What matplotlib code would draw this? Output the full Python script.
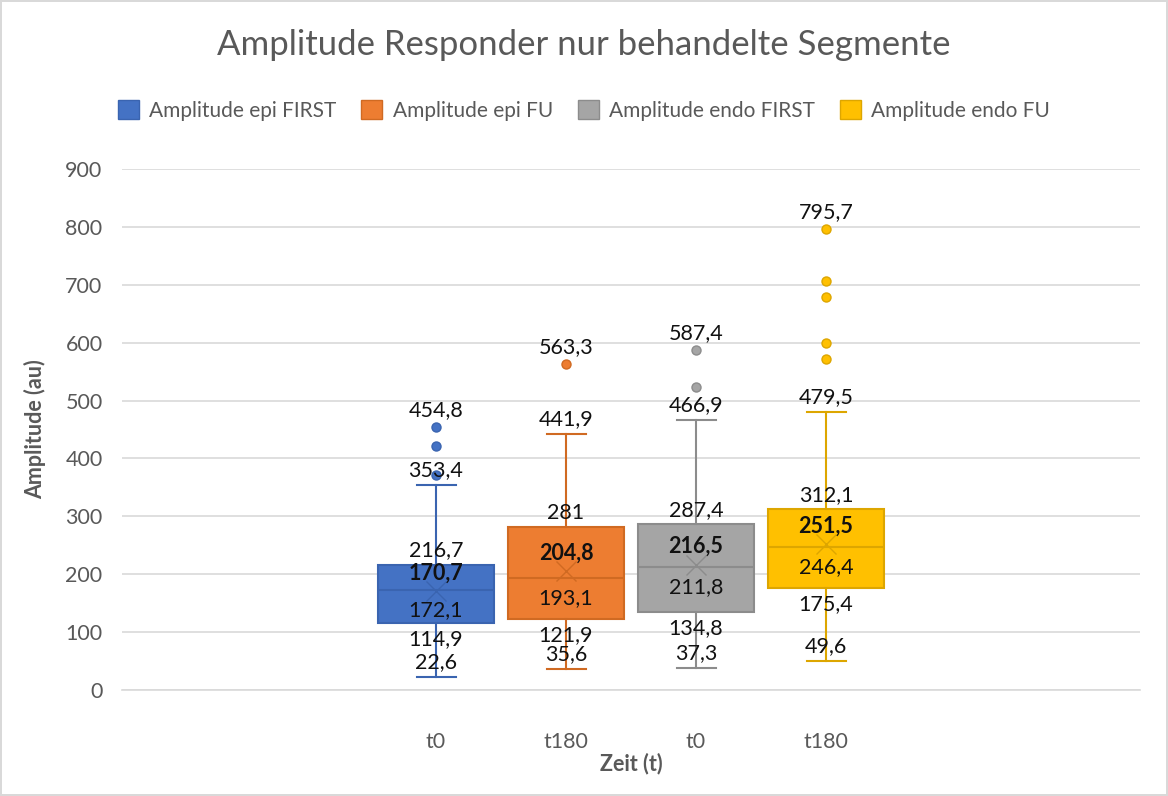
import matplotlib.pyplot as plt

plt.rcParams['font.family'] = ['Lato', 'DejaVu Sans']

# Daten
series = ['Amplitude epi FIRST', 'Amplitude epi FU', 'Amplitude endo FIRST', 'Amplitude endo FU']
xlabels = ['t0', 't180', 't0', 't180']
w_low = [22.6, 35.6, 37.3, 49.6]
q1 = [114.9, 121.9, 134.8, 175.4]
med = [172.1, 193.1, 211.8, 246.4]
mean = [170.7, 204.8, 216.5, 251.5]
q3 = [216.7, 281.0, 287.4, 312.1]
w_high = [353.4, 441.9, 466.9, 479.5]
outliers = [[371, 421, 454.8], [563.3], [524, 587.4], [571, 599, 679, 707, 795.7]]

colors = ['#4472C4', '#ED7D31', '#A5A5A5', '#FFC000']
edges = ['#3A64B0', '#D06A22', '#8C8C8C', '#DDA600']

def fmt(v):
    s = ('%.1f' % v).replace('.', ',')
    return s[:-2] if s.endswith(',0') else s

fig = plt.figure(figsize=(11.68, 7.96), dpi=100)
fig.patch.set_edgecolor('#D9D9D9')
fig.patch.set_linewidth(1.5)
ax = fig.add_axes([0.1045, 0.1332, 0.8715, 0.6545])

stats = []
for i in range(4):
    stats.append(dict(whislo=w_low[i], q1=q1[i], med=med[i], mean=mean[i],
                      q3=q3[i], whishi=w_high[i], fliers=outliers[i]))

for i in range(4):
    ax.bxp([stats[i]], positions=[i], widths=0.89, patch_artist=True,
           showmeans=True, manage_ticks=False,
           boxprops=dict(facecolor=colors[i], edgecolor=edges[i], linewidth=1.5),
           medianprops=dict(color=edges[i], linewidth=1.5),
           whiskerprops=dict(color=edges[i], linewidth=1.5),
           capprops=dict(color=edges[i], linewidth=1.5),
           capwidths=0.3,
           meanprops=dict(marker='x', markeredgecolor=edges[i], markersize=15, markeredgewidth=1),
           flierprops=dict(marker='o', markerfacecolor=colors[i], markeredgecolor=edges[i],
                           markersize=6.5))

# Datenbeschriftungen
lab = dict(ha='center', va='center', fontsize=15.5, color='#111111',
           textcoords='offset pixels')
for i in range(4):
    ax.annotate(fmt(w_high[i]), (i, w_high[i]), xytext=(0, 15), **lab)
    ax.annotate(fmt(q3[i]), (i, q3[i]), xytext=(0, 14), **lab)
    ax.annotate(fmt(mean[i]), (i, mean[i]), xytext=(0, 18), fontweight='bold', **lab)
    ax.annotate(fmt(med[i]), (i, med[i]), xytext=(0, -20), **lab)
    ax.annotate(fmt(q1[i]), (i, q1[i]), xytext=(0, -16), **lab)
    ax.annotate(fmt(w_low[i]), (i, w_low[i]), xytext=(0, 15), **lab)
    top = max(outliers[i])
    ax.annotate(fmt(top), (i, top), xytext=(0, 17), **lab)

ax.set_xlim(-2.415, 5.415)
ax.set_ylim(0, 900)
ax.set_yticks(range(0, 1000, 100))
ax.set_xticks(range(4))
ax.set_xticklabels(xlabels)
ax.tick_params(axis='x', length=0, pad=30, labelsize=15.5, labelcolor='#595959')
ax.tick_params(axis='y', length=0, pad=14, labelsize=15.5, labelcolor='#595959')
ax.grid(axis='y', color='#D9D9D9', linewidth=1.2)
ax.set_axisbelow(True)
for s in ['top', 'right', 'left']:
    ax.spines[s].set_visible(False)
ax.spines['bottom'].set_color('#D9D9D9')
ax.spines['bottom'].set_linewidth(1.2)

ax.set_xlabel('Zeit (t)', fontsize=15.5, fontweight='bold', color='#595959', labelpad=1)
ax.set_ylabel('Amplitude (au)', fontsize=15.5, fontweight='bold', color='#595959', labelpad=14)

fig.text(0.5, 0.943, 'Amplitude Responder nur behandelte Segmente', ha='center', va='center',
         fontsize=25, color='#595959')

handles = [plt.Rectangle((0, 0), 1, 1, facecolor=colors[i], edgecolor=edges[i]) for i in range(4)]
fig.legend(handles, series, loc='center', bbox_to_anchor=(0.5, 0.861), ncol=4, frameon=False,
           fontsize=15, labelcolor='#595959', handlelength=1.0, handleheight=1.0,
           handletextpad=0.5, columnspacing=1.2)

fig.savefig('out.png', dpi=100)
